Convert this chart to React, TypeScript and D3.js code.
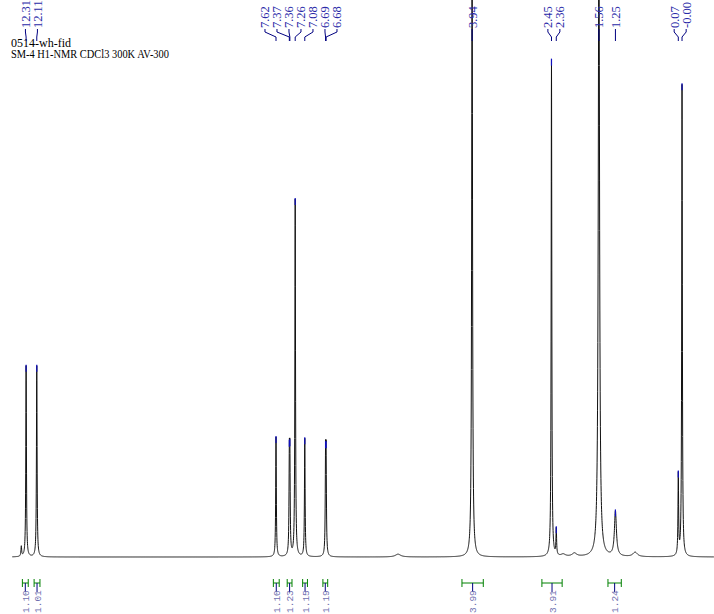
import React from 'react'
import * as d3 from 'd3'

const W = 714
const H = 614

// peak list: shift (ppm), amplitude (% of plot height), half width (ppm)
const peakPpm = [12.40, 12.31, 12.11, 7.62, 7.37, 7.36, 7.26, 7.08, 6.69, 6.68, 5.33, 3.94, 2.45, 2.36, 2.23, 2.02, 1.56, 1.25, 0.88, 0.07, 0.00]
const peakAmp = [1.8, 34.3, 34.3, 21.5, 15.5, 15.5, 64.1, 21.2, 15.5, 15.5, 0.5, 115, 89.2, 4.7, 0.4, 0.6, 117, 8.1, 0.8, 14.5, 84.7]
const peakWidth = [0.008, 0.007, 0.007, 0.007, 0.007, 0.007, 0.007, 0.007, 0.007, 0.007, 0.06, 0.009, 0.007, 0.007, 0.05, 0.05, 0.014, 0.022, 0.05, 0.007, 0.007]

// picked peaks shown at the top
const labelPpm = [12.31, 12.11, 7.62, 7.37, 7.36, 7.26, 7.08, 6.69, 6.68, 3.94, 2.45, 2.36, 1.56, 1.25, 0.07, 0.00]
const labelText = ['12.31', '12.11', '7.62', '7.37', '7.36', '7.26', '7.08', '6.69', '6.68', '3.94', '2.45', '2.36', '1.56', '1.25', '0.07', '-0.00']

// integral regions along the bottom
const integralFrom = [12.38, 12.16, 7.67, 7.41, 7.12, 6.74, 4.13, 2.63, 1.39]
const integralTo = [12.27, 12.05, 7.56, 7.32, 7.03, 6.65, 3.73, 2.25, 1.14]
const integralValue = ['1.10', '1.01', '1.10', '1.23', '1.15', '1.19', '3.99', '3.91', '1.24']

const titleLines = ['0514-wh-fid', 'SM-4 H1-NMR CDCl3 300K AV-300']

// push labels apart so they keep a minimum gap, staying as close to the peaks as possible
function spread(xs: number[], gap: number) {
  const blocks: { first: number; n: number; sum: number; start: number }[] = []
  xs.forEach((v, i) => {
    let b = { first: i, n: 1, sum: v, start: v }
    while (blocks.length) {
      const prev = blocks[blocks.length - 1]
      if (prev.start + prev.n * gap <= b.start) break
      const n = prev.n + b.n
      const sum = prev.sum + b.sum - b.n * prev.n * gap
      b = { first: prev.first, n, sum, start: sum / n }
      blocks.pop()
    }
    blocks.push(b)
  })
  const out: number[] = []
  blocks.forEach(b => { for (let k = 0; k < b.n; k++) out[b.first + k] = b.start + k * gap })
  return out
}

export default function App() {
  const x = d3.scaleLinear().domain([12.8, -0.6]).range([0, W])
  const y = d3.scaleLinear().domain([0, 100]).range([557, 0])

  const intensity = (p: number) =>
    d3.sum(peakPpm, (c, i) => {
      const d = (p - c) / peakWidth[i]
      return peakAmp[i] / (1 + d * d)
    })

  const grid = d3.range(12.57, -0.6, -0.002)
  const line = d3.line<number>().x(p => x(p)).y(p => y(intensity(p)))

  const slots = spread(labelPpm.map(p => x(p)), 12)
  const blue = '#000080'
  const textBlue = '#2a2aa8'
  const green = '#008000'

  return (
    <svg width={W} height={H} style={{ position: 'absolute', left: 0, top: 0, background: '#fff' }}>
      {titleLines.map((t, i) => (
        <text key={t} x={11} y={46.5 + i * 11} fontFamily="Liberation Serif" fontSize={11.5}
          textLength={i === 0 ? 60 : 158} lengthAdjust="spacingAndGlyphs" fill="#000">{t}</text>
      ))}

      <path d={line(grid) ?? ''} fill="none" stroke="#111" strokeWidth={1} />

      {/* peak labels with leaders */}
      {labelPpm.map((p, i) => {
        const px = x(p)
        const sx = slots[i]
        const top = y(intensity(p))
        return (
          <g key={labelText[i]}>
            <text transform={`translate(${sx + 4.5},28) rotate(-90)`} fontFamily="Liberation Serif"
              fontSize={12.5} fill={textBlue}>{labelText[i]}</text>
            <polyline points={`${sx},29 ${sx},32 ${px},37 ${px},41`} fill="none" stroke={blue} strokeWidth={1} />
            {top > 45 && <line x1={px} x2={px} y1={top - 1} y2={top + 6} stroke="#1010c0" strokeWidth={1.2} />}
          </g>
        )
      })}

      {/* integrals */}
      {integralFrom.map((a, i) => {
        const x1 = x(a)
        const x2 = x(integralTo[i])
        const cx = (x1 + x2) / 2
        return (
          <g key={i}>
            <line x1={x1} x2={x2} y1={583} y2={583} stroke={green} strokeWidth={1} />
            <line x1={x1} x2={x1} y1={579} y2={587} stroke={green} strokeWidth={1} />
            <line x1={x2} x2={x2} y1={579} y2={587} stroke={green} strokeWidth={1} />
            <line x1={cx} x2={cx} y1={583} y2={592} stroke={blue} strokeWidth={1} />
            <text transform={`translate(${cx + 3.5},613) rotate(-90)`} fontFamily="Liberation Mono"
              fontSize={9.5} fill="#7070b0">{integralValue[i]}</text>
          </g>
        )
      })}
    </svg>
  )
}
